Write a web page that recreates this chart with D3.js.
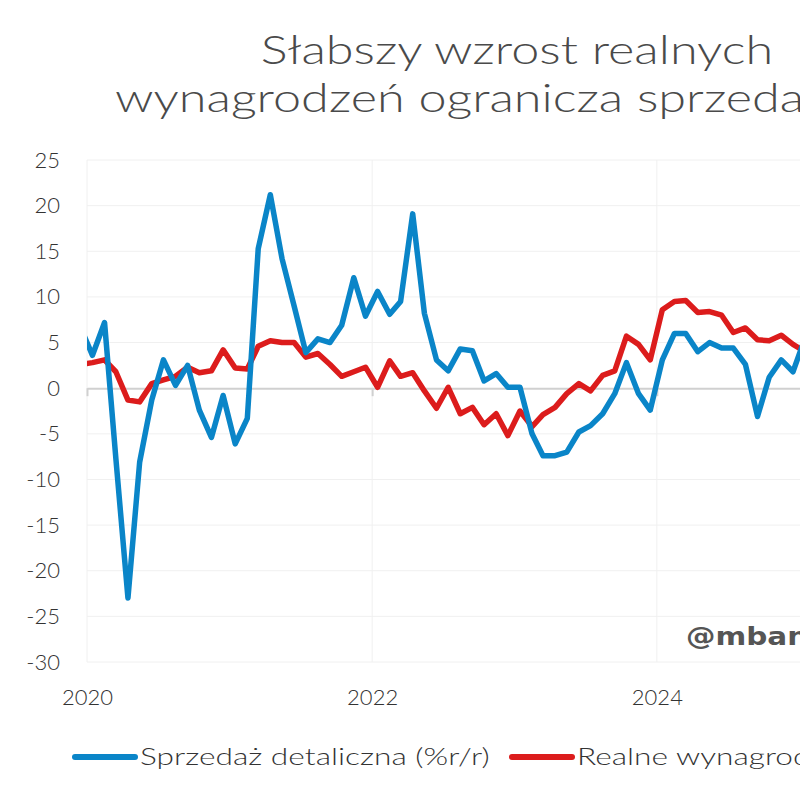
<!DOCTYPE html>
<html>
<head>
<meta charset="utf-8">
<script src="https://cdn.jsdelivr.net/npm/d3@7"></script>
<style>
  html, body { margin: 0; padding: 0; background: #fff; overflow: hidden; }
  svg { display: block; }
  text { font-family: "Lato", "Open Sans", sans-serif; }
</style>
</head>
<body>
<svg id="chart"></svg>
<script>
// ---- data (monthly, Dec 2019 .. Jan 2025) ----
const START_YEAR = 2019, START_MONTH = 11; // December 2019
const retailSales = [
  6.7,
  3.6, 7.2, -7.7, -23.0, -8.1, -1.3, 3.1, 0.3, 2.5, -2.4, -5.4, -0.8,
  -6.1, -3.3, 15.3, 21.2, 14.2, 9.0, 3.9, 5.4, 5.0, 6.9, 12.1, 7.9,
  10.6, 8.1, 9.5, 19.1, 8.2, 3.1, 1.9, 4.3, 4.1, 0.8, 1.6, 0.1,
  0.1, -5.0, -7.4, -7.4, -7.0, -4.8, -4.1, -2.8, -0.6, 2.8, -0.6, -2.4,
  3.1, 6.0, 6.0, 4.0, 5.0, 4.4, 4.4, 2.6, -3.1, 1.2, 3.1, 1.8,
  5.5
];
const realWages = [
  2.6,
  2.8, 3.1, 1.8, -1.3, -1.5, 0.5, 0.9, 1.3, 2.3, 1.7, 1.9, 4.2,
  2.2, 2.1, 4.6, 5.2, 5.0, 5.0, 3.4, 3.8, 2.6, 1.3, 1.8, 2.3,
  0.1, 3.0, 1.3, 1.7, -0.3, -2.2, 0.1, -2.8, -2.1, -4.0, -2.8, -5.2,
  -2.5, -4.2, -2.9, -2.1, -0.6, 0.5, -0.3, 1.4, 1.9, 5.7, 4.8, 3.1,
  8.6, 9.5, 9.6, 8.3, 8.4, 8.0, 6.1, 6.6, 5.3, 5.2, 5.8, 4.8,
  4.0
];
const yTicks = [25, 20, 15, 10, 5, 0, -5, -10, -15, -20, -25, -30];
const xTickYears = [2020, 2022, 2024, 2026];
const seriesNames = ["Sprzedaż detaliczna (%r/r)", "Realne wynagrodzenia (%r/r)"];
const seriesColors = ["#0a85c8", "#dc1c1c"];
const titleLines = ["Słabszy wzrost realnych", "wynagrodzeń ogranicza sprzedaż detaliczną"];

const W = 1200, H = 800;
const M = { left: 87, right: 942, top: 160, bottom: 662 };
// the reference face is a wide geometric sans; stretch the installed one
const WIDE = 1.26;

const svg = d3.select("#chart").attr("width", W).attr("height", H);

const dates = retailSales.map((_, i) => new Date(START_YEAR, START_MONTH + i, 15));

const x = d3.scaleTime()
  .domain([new Date(2020, 0, 1), new Date(2026, 0, 1)])
  .range([M.left, M.right]);
const y = d3.scaleLinear().domain([-30, 25]).range([M.bottom, M.top]);

function wideText(px, py, sx, anchor) {
  return svg.append("g")
    .attr("transform", `translate(${px},${py}) scale(${sx},1)`)
    .append("text")
    .attr("text-anchor", anchor);
}

// title
wideText(517, 64, WIDE, "middle")
  .attr("font-size", 40).attr("font-weight", 300)
  .attr("fill", "#4a4a4a")
  .text(titleLines[0]);
wideText(115, 112, WIDE, "start")
  .attr("font-size", 40).attr("font-weight", 300)
  .attr("fill", "#4a4a4a")
  .text(titleLines[1]);

// grid
const grid = svg.append("g");
grid.selectAll("line.h")
  .data(yTicks.filter((d) => d !== 0))
  .join("line")
  .attr("x1", M.left).attr("x2", M.right)
  .attr("y1", (d) => y(d)).attr("y2", (d) => y(d))
  .attr("stroke", "#f0f0f0").attr("stroke-width", 1);
grid.selectAll("line.v")
  .data(xTickYears)
  .join("line")
  .attr("x1", (d) => x(new Date(d, 0, 1))).attr("x2", (d) => x(new Date(d, 0, 1)))
  .attr("y1", M.top).attr("y2", M.bottom)
  .attr("stroke", "#f0f0f0").attr("stroke-width", 1);

// y axis labels
const yAxis = svg.append("g")
  .attr("transform", `translate(${M.left},0)`)
  .call(d3.axisLeft(y).tickValues(yTicks).tickSize(0).tickPadding(27).tickFormat((d) => String(d)));
yAxis.select(".domain").remove();
yAxis.selectAll("text")
  .attr("font-size", 22).attr("font-weight", 300)
  .attr("fill", "#333").style("font-family", "Lato, sans-serif");

// x axis labels at bottom
const xAxis = svg.append("g")
  .attr("transform", `translate(0,${M.bottom})`)
  .call(d3.axisBottom(x).tickValues(xTickYears.map((d) => new Date(d, 0, 1)))
    .tickSize(0).tickPadding(27).tickFormat(d3.timeFormat("%Y")));
xAxis.select(".domain").remove();
xAxis.selectAll("text")
  .attr("font-size", 22).attr("font-weight", 300)
  .attr("fill", "#333").style("font-family", "Lato, sans-serif");

// zero line with small ticks
const zeroAxis = svg.append("g")
  .attr("transform", `translate(0,${y(0)})`)
  .call(d3.axisBottom(x).tickValues(xTickYears.map((d) => new Date(d, 0, 1)))
    .tickSize(8).tickSizeOuter(0).tickFormat(""));
zeroAxis.select(".domain").attr("stroke", "#d0d0d0").attr("stroke-width", 2);
zeroAxis.selectAll(".tick line").attr("stroke", "#d0d0d0").attr("stroke-width", 2);

// watermark
wideText(686, 645, 1.18, "start")
  .attr("font-size", 25).attr("font-weight", 700)
  .attr("fill", "#555")
  .style("font-family", "DejaVu Sans, sans-serif")
  .text("@mbank_research");

// lines
svg.append("clipPath").attr("id", "plot-clip")
  .append("rect")
  .attr("x", M.left).attr("y", 0)
  .attr("width", M.right - M.left).attr("height", H);

const line = d3.line()
  .x((d) => x(d.date))
  .y((d) => y(d.v));

const series = [retailSales, realWages].map((vals, k) => ({
  name: seriesNames[k],
  color: seriesColors[k],
  points: vals.map((v, i) => ({ date: dates[i], v }))
}));

svg.append("g")
  .attr("clip-path", "url(#plot-clip)")
  .selectAll("path")
  .data(series.slice().reverse())
  .join("path")
  .attr("fill", "none")
  .attr("stroke", (d) => d.color)
  .attr("stroke-width", 5.5)
  .attr("stroke-linejoin", "round")
  .attr("d", (d) => line(d.points));

// legend
const legendX = [75, 512];
const legend = svg.append("g")
  .selectAll("g")
  .data(series)
  .join("g")
  .attr("transform", (d, i) => `translate(${legendX[i]},757)`);
legend.append("line")
  .attr("x1", 0).attr("x2", 60)
  .attr("stroke", (d) => d.color)
  .attr("stroke-width", 6)
  .attr("stroke-linecap", "round");
legend.append("text")
  .attr("transform", "translate(65,0) scale(1.32,1)")
  .attr("dy", "0.35em")
  .attr("font-size", 24).attr("font-weight", 300)
  .attr("fill", "#333")
  .text((d) => d.name);
</script>
</body>
</html>
